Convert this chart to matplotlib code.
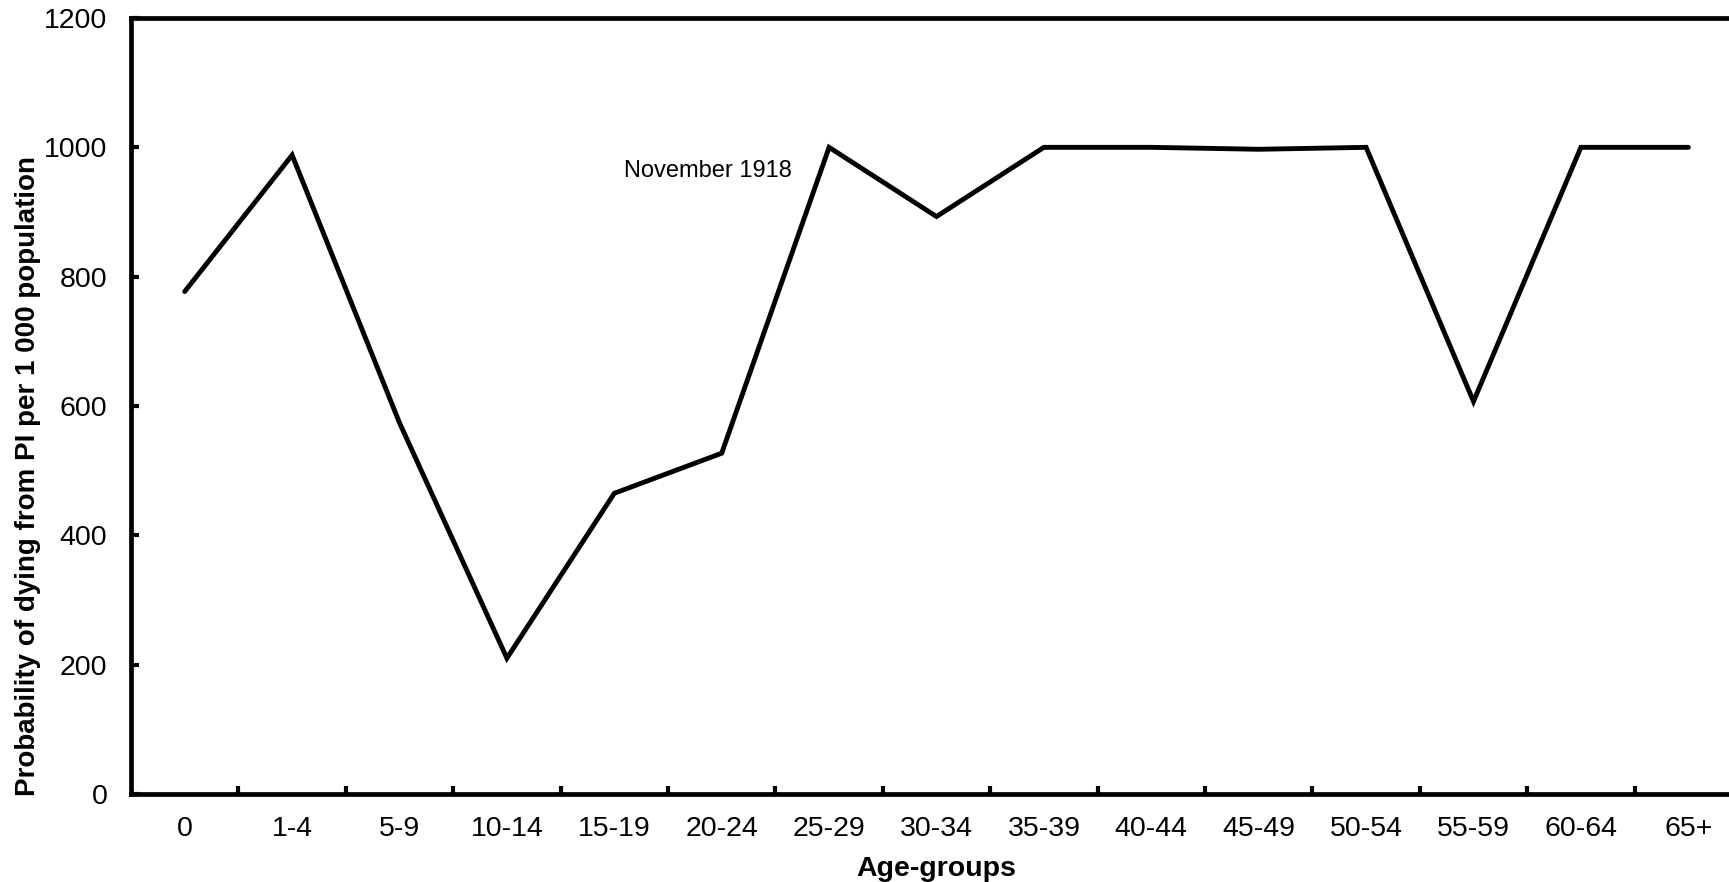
import matplotlib
matplotlib.use("Agg")
import matplotlib.pyplot as plt

age_groups = ["0", "1-4", "5-9", "10-14", "15-19", "20-24", "25-29", "30-34",
              "35-39", "40-44", "45-49", "50-54", "55-59", "60-64", "65+"]
probability = [777, 988, 574, 210, 465, 527, 1000, 893,
               1000, 1000, 997, 1000, 607, 1000, 1000]
y_ticks = [0, 200, 400, 600, 800, 1000, 1200]

plt.rcParams['font.family'] = ['Liberation Sans', 'DejaVu Sans']

fig = plt.figure(figsize=(17.29, 8.82), dpi=100)
ax = fig.add_axes([131/1729, 1-794/882, 1611/1729, 776/882])

xs = [i + 0.5 for i in range(len(age_groups))]
ax.plot(xs, probability, color='black', lw=3.5, solid_capstyle='round', solid_joinstyle='miter')

ax.set_xlim(0, len(age_groups))
ax.set_ylim(0, 1200)
ax.set_yticks(y_ticks)
ax.set_yticklabels([str(v) for v in y_ticks], fontsize=20.5)
ax.set_xticks(range(1, len(age_groups)))
ax.set_xticklabels([])
ax.set_xticks(xs, minor=True)
ax.set_xticklabels(age_groups, minor=True, fontsize=20.5)
ax.tick_params(axis='x', which='major', direction='in', length=6, width=3)
ax.tick_params(axis='x', which='minor', length=0, pad=16)
ax.tick_params(axis='y', direction='in', length=6, width=3, pad=17)

for s in ax.spines.values():
    s.set_linewidth(3.4)

ax.set_xlabel("Age-groups", fontsize=20.5, fontweight='bold', labelpad=10)
ax.set_ylabel("Probability of dying from PI per 1 000 population", fontsize=20,
              fontweight='bold')
ax.yaxis.set_label_coords(-0.0558, 0.41)
ax.text(6.15, 964, "November 1918", fontsize=17, ha='right', va='center')

fig.savefig("out.png", dpi=100)
